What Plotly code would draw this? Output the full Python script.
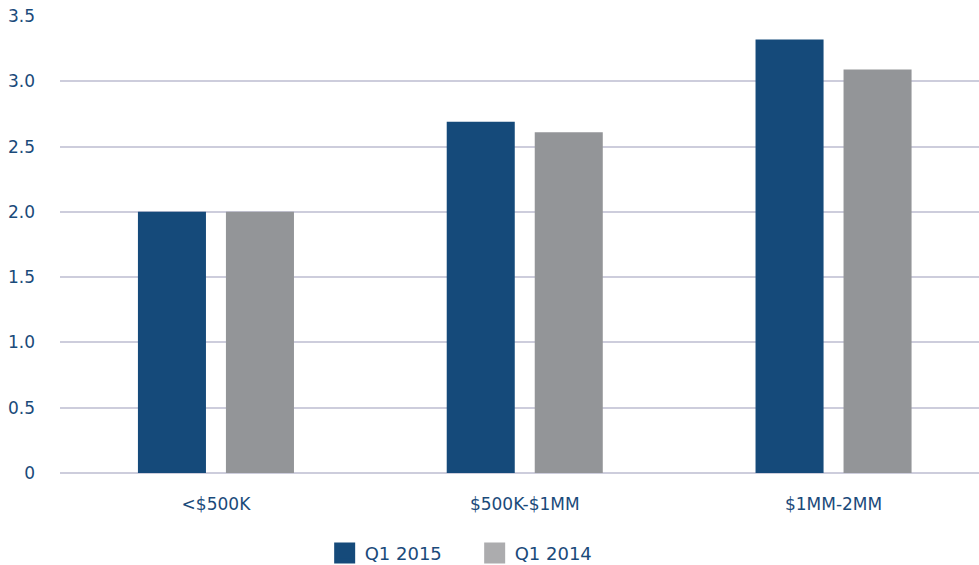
import plotly.graph_objects as go

categories = ["<$500K", "$500K-$1MM", "$1MM-2MM"]
q1_2015 = [2.0, 2.69, 3.32]
q1_2014 = [2.0, 2.61, 3.09]
series_names = ["Q1 2015", "Q1 2014"]
ytick_vals = [0, 0.5, 1.0, 1.5, 2.0, 2.5, 3.0, 3.5]
ytick_text = ["0", "0.5", "1.0", "1.5", "2.0", "2.5", "3.0", "3.5"]

BLUE = "#154a7a"
GRAY = "#939598"
GRAY_LEG = "#acacae"
TXT = "#1a4a7a"
GRID = "#cdcddc"
FONT = "DejaVu Sans"

fig = go.Figure()
fig.add_trace(go.Bar(x=categories, y=q1_2015, name=series_names[0],
                     marker=dict(color=BLUE, line=dict(width=0)), showlegend=False))
fig.add_trace(go.Bar(x=categories, y=q1_2014, name=series_names[1],
                     marker=dict(color=GRAY, line=dict(width=0)), showlegend=False))
for nm, col in zip(series_names, [BLUE, GRAY_LEG]):
    fig.add_trace(go.Scatter(x=[None], y=[None], mode="markers", name=nm,
                             marker=dict(symbol="square", size=16, color=col,
                                         line=dict(color=col, width=5))))

fig.update_layout(
    width=979, height=565,
    margin=dict(l=60, r=0, t=16, b=92, autoexpand=False),
    paper_bgcolor="white", plot_bgcolor="white",
    barmode="group", bargap=0.43, bargroupgap=0.227,
    font=dict(family=FONT, size=17, color=TXT),
    showlegend=True,
    legend=dict(orientation="h", x=0.288, xanchor="left", y=-0.135, yanchor="top",
                font=dict(family=FONT, size=18, color=TXT),
                entrywidth=105, entrywidthmode="pixels",
                bgcolor="rgba(0,0,0,0)"),
)
fig.update_xaxes(range=[-0.505, 2.471], showgrid=False, showline=False, zeroline=False,
                 automargin=False,
                 ticks="", ticklabelstandoff=19, tickfont=dict(size=17, color=TXT))
fig.update_yaxes(range=[0, 3.5], tickvals=ytick_vals, ticktext=ytick_text,
                 showgrid=True, gridcolor=GRID, gridwidth=2,
                 zeroline=True, zerolinecolor=GRID, zerolinewidth=2,
                 automargin=False,
                 showline=False, ticks="", ticklabelstandoff=24,
                 tickfont=dict(size=17, color=TXT))

fig.write_html("out.html",
               config={"displayModeBar": False},
               post_script="document.body.style.margin='0';document.body.style.overflow='hidden';")
